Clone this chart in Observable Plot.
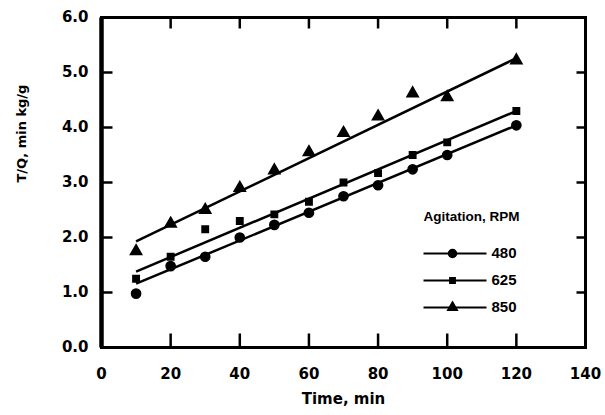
<!DOCTYPE html>
<html>
<head>
<meta charset="utf-8">
<script src="https://cdn.jsdelivr.net/npm/d3@7"></script>
<script src="https://cdn.jsdelivr.net/npm/@observablehq/plot@0.6"></script>
<style>
  html, body { margin: 0; padding: 0; background: #fff; }
</style>
</head>
<body>
<div id="chart"></div>
<script>
// ---- data ----
const times = [10, 20, 30, 40, 50, 60, 70, 80, 90, 100, 120];
const rpm480 = [0.98, 1.48, 1.65, 2.0, 2.23, 2.45, 2.75, 2.95, 3.24, 3.5, 4.04];
const rpm625 = [1.25, 1.65, 2.15, 2.3, 2.42, 2.65, 3.0, 3.17, 3.5, 3.73, 4.3];
const rpm850 = [1.75, 2.25, 2.5, 2.9, 3.22, 3.55, 3.9, 4.2, 4.62, 4.55, 5.22];
const seriesNames = ["480", "625", "850"];
const fitTimes = [10, 120];
const fitStart = [1.16, 1.38, 1.93];
const fitEnd = [4.04, 4.3, 5.26];
const xTicks = [0, 20, 40, 60, 80, 100, 120, 140];
const yTicks = [0, 1, 2, 3, 4, 5, 6];
const legendTitle = "Agitation, RPM";
const xLabel = "Time, min";
const yLabel = "T/Q, min kg/g";

// ---- build ----
const symbols = [d3.symbolCircle, d3.symbolSquare, d3.symbolTriangle];
const radii = [4.6, 3.6, 4.2];
const seriesValues = [rpm480, rpm625, rpm850];
const points = [];
seriesValues.forEach((vals, s) => vals.forEach((v, i) => points.push({t: times[i], v, s: seriesNames[s]})));
const fits = seriesNames.map((name, i) => ({name, t1: fitTimes[0], t2: fitTimes[1], v1: fitStart[i], v2: fitEnd[i]}));

const W = 605, H = 415;
const mL = 101, mR = 20, mT = 17, mB = 68;
const xs = d3.scaleLinear([0, 140], [mL, W - mR]);
const ys = d3.scaleLinear([0, 6], [H - mB, mT]);

// inward tick segments (pixels -> data via the same scales)
const tL = xs.invert(mL + 11), tR = xs.invert(W - mR - 9);
const tB = ys.invert(H - mB - 14), tT = ys.invert(mT + 11);
const tickSegs = [
  ...yTicks.slice(1, -1).map(v => ({x1: 0, x2: tL, y1: v, y2: v})),
  ...yTicks.slice(1, -1).map(v => ({x1: tR, x2: 140, y1: v, y2: v})),
  ...xTicks.slice(1, -1).map(v => ({x1: v, x2: v, y1: 0, y2: tB})),
  ...xTicks.slice(1, -1).map(v => ({x1: v, x2: v, y1: tT, y2: 6}))
];

// legend placement
const legX0 = xs.invert(423), legX1 = xs.invert(486), legXm = xs.invert(452), legXt = xs.invert(491);
const legRows = seriesNames.map((name, i) => ({name, sym: symbols[i], r: radii[i] - 0.6, y: ys.invert(253 + i * 27)}));

const font = "DejaVu Sans, Liberation Sans, Arial, sans-serif";

const marks = [
  Plot.frame({strokeWidth: 3}),
  Plot.link([{x1: 0, x2: 0, y1: 0, y2: 6}], {x1: "x1", x2: "x2", y1: "y1", y2: "y2", stroke: "black", strokeWidth: 4.5}),
  Plot.link(tickSegs, {x1: "x1", x2: "x2", y1: "y1", y2: "y2", stroke: "black", strokeWidth: 2.5}),
  Plot.axisY({ticks: yTicks, tickFormat: d3.format(".1f"), tickSize: 0, tickPadding: 13, label: null,
    fontSize: 15, fontWeight: "bold", fontFamily: font}),
  Plot.axisX({ticks: xTicks, tickFormat: d => String(d), tickSize: 0, tickPadding: 21, label: null,
    fontSize: 15, fontWeight: "bold", fontFamily: font}),
  Plot.text([yLabel], {frameAnchor: "left", dx: -80, rotate: -90, fontSize: 13, fontWeight: "bold", fontFamily: font}),
  Plot.text([xLabel], {frameAnchor: "bottom", dy: 56, fontSize: 15, fontWeight: "bold", fontFamily: font}),
  Plot.link(fits, {x1: "t1", y1: "v1", x2: "t2", y2: "v2", stroke: "black", strokeWidth: 2.5}),
  ...seriesNames.map((name, i) =>
    Plot.dot(points.filter(p => p.s === name), {x: "t", y: "v", symbol: symbols[i], r: radii[i], fill: "black", stroke: "black", strokeWidth: 1.5})),
  Plot.text([legendTitle], {x: () => legX0, y: () => ys.invert(216), textAnchor: "start", fontSize: 13.5, fontWeight: "bold", fontFamily: "Liberation Sans, Arial, sans-serif"}),
  Plot.link(legRows, {x1: () => legX0, x2: () => legX1, y1: "y", y2: "y", stroke: "black", strokeWidth: 2}),
  ...legRows.map(row => Plot.dot([row], {x: () => legXm, y: "y", symbol: row.sym, r: row.r, fill: "black", stroke: "black"})),
  Plot.text(legRows, {x: () => legXt, y: "y", text: "name", textAnchor: "start", fontSize: 15, fontWeight: "bold", fontFamily: "Liberation Sans, Arial, sans-serif"})
];

const chart = Plot.plot({
  width: W, height: H,
  marginLeft: mL, marginRight: mR, marginTop: mT, marginBottom: mB,
  x: {domain: [0, 140], axis: null},
  y: {domain: [0, 6], axis: null},
  style: {fontFamily: font, fontSize: "15px", color: "black", background: "white", overflow: "visible"},
  marks
});
document.getElementById("chart").appendChild(chart);
</script>
</body>
</html>
